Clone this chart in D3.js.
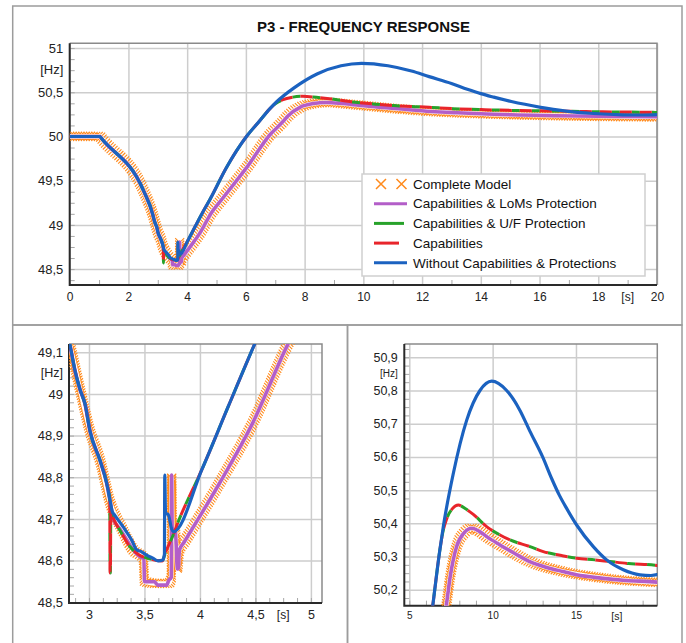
<!DOCTYPE html>
<html>
<head>
<meta charset="utf-8">
<script src="https://cdn.jsdelivr.net/npm/d3@7"></script>
<style>
  body { margin: 0; background: #fff; }
</style>
</head>
<body>
<svg id="chart" width="686" height="643"></svg>
<script>
// ---- data: [time (s), frequency (Hz)] ----
const completeModel = [
  [0, 50.0], [1.03, 50.0], [1.08, 49.979], [2.51, 49.39], [2.83, 49.116], [2.92, 49.01], [3.01, 48.91],
  [3.10, 48.84], [3.19, 48.74], [3.30, 48.675], [3.40, 48.625], [3.49, 48.606], [3.50, 48.55],
  [3.60, 48.545], [3.72, 48.545], [3.742, 48.56], [3.745, 48.80], [3.752, 48.68], [3.78, 48.665],
  [3.797, 48.58], [3.815, 48.625], [3.86, 48.645], [4.175, 48.785], [4.475, 48.93], [4.79, 49.118],
  [5.23, 49.31], [6.03, 49.65], [6.82, 50.02], [7.24, 50.16], [7.44, 50.235], [7.84, 50.33],
  [8.3, 50.372], [8.74, 50.385], [9.2, 50.376], [9.64, 50.36], [10.44, 50.335], [12.3, 50.283],
  [14.2, 50.255], [16.5, 50.236], [18, 50.228], [20, 50.222]
];

const lomsProtection = [
  [0, 50.0], [1.03, 50.0], [1.08, 49.979], [2.51, 49.39], [2.83, 49.116], [2.874, 49.056], [2.92, 49.01],
  [2.964, 48.976], [3.01, 48.91], [3.10, 48.84], [3.16, 48.785], [3.19, 48.742], [3.22, 48.70],
  [3.28, 48.675], [3.34, 48.65], [3.40, 48.625], [3.475, 48.607], [3.495, 48.605], [3.50, 48.549],
  [3.59, 48.549], [3.62, 48.541], [3.70, 48.541], [3.72, 48.553], [3.742, 48.56], [3.745, 48.805],
  [3.75, 48.68], [3.78, 48.665], [3.797, 48.58], [3.805, 48.58], [3.815, 48.625], [3.86, 48.645],
  [4.175, 48.785], [4.475, 48.93], [4.79, 49.118], [5.23, 49.31], [6.03, 49.65], [6.82, 50.02],
  [7.24, 50.16], [7.44, 50.235], [7.84, 50.33], [8.3, 50.372], [8.74, 50.385], [9.2, 50.376],
  [9.64, 50.36], [10.44, 50.335], [11.3, 50.31], [12.3, 50.283], [13.2, 50.268], [14.2, 50.255],
  [15.03, 50.245], [16.5, 50.235], [18, 50.228], [19.86, 50.223], [20, 50.222]
];

const ufProtection = [
  [0, 50.0], [1.03, 50.0], [1.08, 49.979], [2.51, 49.39], [2.83, 49.116], [2.874, 49.056], [2.92, 49.01],
  [2.964, 48.976], [3.01, 48.91], [3.10, 48.84], [3.16, 48.785], [3.187, 48.745], [3.19, 48.57],
  [3.193, 48.57], [3.197, 48.718], [3.23, 48.695], [3.28, 48.672], [3.37, 48.633], [3.45, 48.614],
  [3.55, 48.604], [3.61, 48.600], [3.66, 48.599], [3.69, 48.62], [3.76, 48.662], [3.80, 48.69],
  [4.02, 48.82], [4.26, 48.973], [4.49, 49.118], [4.78, 49.29], [5.34, 49.65], [6.02, 50.0],
  [6.44, 50.165], [6.82, 50.315], [7.0, 50.37], [7.24, 50.413], [7.6, 50.445], [7.94, 50.455],
  [8.4, 50.443], [8.84, 50.427], [9.64, 50.39], [10.44, 50.365], [11.04, 50.35], [12.24, 50.33],
  [13.04, 50.315], [14.14, 50.303], [15.04, 50.295], [16.14, 50.29], [17.04, 50.285],
  [18.15, 50.279], [19.86, 50.273], [20, 50.272]
];

const capabilities = [
  [0, 50.0], [1.03, 50.0], [1.08, 49.979], [2.51, 49.39], [2.83, 49.116], [2.874, 49.056], [2.92, 49.01],
  [2.964, 48.976], [3.01, 48.91], [3.10, 48.84], [3.16, 48.785], [3.187, 48.745], [3.19, 48.57],
  [3.193, 48.57], [3.197, 48.718], [3.23, 48.695], [3.28, 48.672], [3.37, 48.633], [3.45, 48.614],
  [3.55, 48.604], [3.61, 48.600], [3.66, 48.599], [3.69, 48.62], [3.76, 48.662], [3.80, 48.69],
  [4.02, 48.82], [4.26, 48.973], [4.49, 49.118], [4.78, 49.29], [5.34, 49.65], [6.02, 50.0],
  [6.44, 50.165], [6.82, 50.315], [7.0, 50.37], [7.24, 50.413], [7.6, 50.445], [7.94, 50.455],
  [8.4, 50.443], [8.84, 50.427], [9.64, 50.39], [10.44, 50.365], [11.04, 50.35], [12.24, 50.33],
  [13.04, 50.315], [14.14, 50.303], [15.04, 50.295], [16.14, 50.29], [17.04, 50.285],
  [18.15, 50.279], [19.86, 50.273], [20, 50.272]
];

const withoutCapabilities = [
  [0, 50.0], [1.03, 50.0], [1.08, 49.979], [2.51, 49.39], [2.83, 49.116], [2.874, 49.056], [2.92, 49.01],
  [2.964, 48.976], [3.01, 48.91], [3.10, 48.84], [3.16, 48.785], [3.19, 48.745], [3.21, 48.718],
  [3.235, 48.708], [3.31, 48.68], [3.385, 48.649], [3.43, 48.626], [3.475, 48.621], [3.52, 48.613],
  [3.58, 48.605], [3.624, 48.599], [3.664, 48.601], [3.68, 48.615], [3.683, 48.805], [3.69, 48.713],
  [3.713, 48.711], [3.745, 48.676], [3.76, 48.669], [4.02, 48.82], [4.26, 48.973], [4.49, 49.118],
  [4.78, 49.29], [5.34, 49.65], [6.02, 50.0], [6.44, 50.165], [6.82, 50.315], [7.04, 50.39],
  [7.64, 50.55], [8.44, 50.71], [9.24, 50.80], [9.94, 50.828], [10.84, 50.80], [11.64, 50.74],
  [12.24, 50.677], [13.0, 50.60], [13.54, 50.535], [14.0, 50.485], [14.44, 50.445], [15.04, 50.395],
  [16.04, 50.33], [16.84, 50.29], [17.84, 50.26], [18.84, 50.245], [19.5, 50.243], [20, 50.247]
];

const seriesNames = [
  "Complete Model",
  "Capabilities & LoMs Protection",
  "Capabilities & U/F Protection",
  "Capabilities",
  "Without Capabilities & Protections"
];

// tick values of the three panels
const topXTicks = [0, 2, 4, 6, 8, 10, 12, 14, 16, 18, 20];
const topYTicks = [48.5, 49, 49.5, 50, 50.5, 51];
const leftXTicks = [3, 3.5, 4, 4.5, 5];
const leftYTicks = [48.5, 48.6, 48.7, 48.8, 48.9, 49, 49.1];
const rightXTicks = [5, 10, 15];
const rightYTicks = [50.2, 50.3, 50.4, 50.5, 50.6, 50.7, 50.8, 50.9];

// ---- styles ----
const FONT = '"Liberation Sans", Arial, Helvetica, sans-serif';
const colors = ["#ff8a1c", "#b35ec8", "#27a22a", "#e8252b", "#1b62c0"];
const fmt = d => String(d).replace(".", ",");

const svg = d3.select("#chart");
svg.append("rect").attr("width", 686).attr("height", 643).attr("fill", "#fff");

// outer frames of the three panels
[[12.7, 6, 682, 325], [12.7, 325, 347.5, 660], [347.5, 325, 682, 660]].forEach(b => {
  svg.append("rect")
    .attr("x", b[0]).attr("y", b[1])
    .attr("width", b[2] - b[0]).attr("height", b[3] - b[1])
    .attr("fill", "none").attr("stroke", "#9c9c9c").attr("stroke-width", 1.5);
});

svg.append("text")
  .attr("x", 363.5).attr("y", 31.5)
  .attr("text-anchor", "middle")
  .style("font-family", FONT).style("font-size", "15px").style("font-weight", "bold")
  .attr("fill", "#111")
  .text("P3 - FREQUENCY RESPONSE");

const panels = [
  { x0: 69.7, x1: 657, y0: 43.3, y1: 285, tDom: [0, 20], fDom: [48.32, 51.054],
    xTicks: topXTicks, yTicks: topYTicks,
    xMinor: d3.range(1, 20, 2), yMinor: d3.range(48.375, 51.05, 0.125),
    sAt: 19, hzAt: 50.75, xFont: 12, yFont: 13, sFont: 12, hzFont: 13, xPad: 7.2, yPad: 6.4 },
  { x0: 69, x1: 322, y0: 344, y1: 603, tDom: [2.82, 5.1], fDom: [48.498, 49.12],
    xTicks: leftXTicks, yTicks: leftYTicks,
    xMinor: d3.range(2.875, 5.1, 0.125), yMinor: d3.range(48.52, 49.12, 0.02),
    sAt: 4.75, hzAt: 49.05, xFont: 12.5, yFont: 13, sFont: 12, hzFont: 12.5, xPad: 7, yPad: 6 },
  { x0: 404.3, x1: 657.3, y0: 344, y1: 605.7, tDom: [4.7, 19.88], fDom: [50.152, 50.94],
    xTicks: rightXTicks, yTicks: rightYTicks,
    xMinor: d3.range(5, 19.9, 1), yMinor: d3.range(50.175, 50.94, 0.025),
    sAt: 17.45, hzAt: 50.85, xFont: 10, yFont: 12.5, sFont: 10.5, hzFont: 10, xPad: 6.5, yPad: 6.5 }
];

panels.forEach((p, i) => {
  const x = d3.scaleLinear().domain(p.tDom).range([p.x0, p.x1]);
  const y = d3.scaleLinear().domain(p.fDom).range([p.y1, p.y0]);
  const w = p.x1 - p.x0, h = p.y1 - p.y0;

  svg.append("clipPath").attr("id", "clip" + i)
    .append("rect").attr("x", p.x0).attr("y", p.y0).attr("width", w).attr("height", h);

  // grid + labels
  const gx = svg.append("g")
    .attr("transform", `translate(0,${p.y1})`)
    .call(d3.axisBottom(x).tickValues(p.xTicks).tickFormat(fmt).tickSize(-h).tickPadding(p.xPad))
    .attr("font-family", FONT).attr("font-size", p.xFont);
  gx.select(".domain").remove();
  gx.selectAll("line").attr("stroke", "#cdcdcd").attr("stroke-width", 1.5);
  gx.selectAll("text").attr("fill", "#222");

  const gy = svg.append("g")
    .attr("transform", `translate(${p.x0},0)`)
    .call(d3.axisLeft(y).tickValues(p.yTicks).tickFormat(fmt).tickSize(-w).tickPadding(p.yPad))
    .attr("font-family", FONT).attr("font-size", p.yFont);
  gy.select(".domain").remove();
  gy.selectAll("line").attr("stroke", "#cdcdcd").attr("stroke-width", 1.5);
  gy.selectAll("text").attr("fill", "#222");

  // minor ticks (inside the plot)
  const mx = svg.append("g").attr("transform", `translate(0,${p.y1})`)
    .call(d3.axisBottom(x).tickValues(p.xMinor).tickFormat("").tickSize(-5));
  mx.select(".domain").remove();
  mx.selectAll("line").attr("stroke", "#a8a8a8");
  const my = svg.append("g").attr("transform", `translate(${p.x0},0)`)
    .call(d3.axisLeft(y).tickValues(p.yMinor).tickFormat("").tickSize(-5));
  my.select(".domain").remove();
  my.selectAll("line").attr("stroke", "#a8a8a8");

  // frame
  svg.append("path")
    .attr("d", `M${p.x0},${p.y0}H${p.x1}V${p.y1}`)
    .attr("fill", "none").attr("stroke", "#8a8a8a").attr("stroke-width", 1.5);
  svg.append("path")
    .attr("d", `M${p.x0},${p.y0}V${p.y1}H${p.x1}`)
    .attr("fill", "none").attr("stroke", "#2a2a2a").attr("stroke-width", 2);

  // unit labels
  svg.append("text")
    .attr("x", x(p.sAt)).attr("y", p.y1 + p.xPad).attr("dy", "0.71em")
    .attr("text-anchor", "middle")
    .style("font-family", FONT).style("font-size", p.sFont + "px").attr("fill", "#222")
    .text("[s]");
  svg.append("text")
    .attr("x", p.x0 - p.yPad).attr("y", y(p.hzAt)).attr("dy", "0.32em")
    .attr("text-anchor", "end")
    .style("font-family", FONT).style("font-size", p.hzFont + "px").attr("fill", "#222")
    .text("[Hz]");

  // series
  const line = d3.line()
    .x(d => x(d[0])).y(d => y(d[1]))
    .curve(d3.curveMonotoneX);
  const g = svg.append("g").attr("clip-path", `url(#clip${i})`);

  // complete model: dense orange crosses along the curve, white core
  const guide = g.append("path").datum(completeModel)
    .attr("d", line).attr("fill", "none").attr("stroke", "none");
  const node = guide.node();
  const len = node.getTotalLength();
  const marks = d3.range(0, len, 2.6).map(l => node.getPointAtLength(l));
  g.append("path")
    .attr("d", marks.map(m => `M${m.x - 4.5},${m.y - 4.5}l9,9m0,-9l-9,9`).join(""))
    .attr("fill", "none").attr("stroke", colors[0]).attr("stroke-width", 1.1);
  g.append("path").datum(completeModel)
    .attr("d", line).attr("fill", "none")
    .attr("stroke", "#fff").attr("stroke-width", 4.5).attr("stroke-linejoin", "round");

  const styled = [
    { data: lomsProtection, color: colors[1], width: 3.6, dash: null },
    { data: ufProtection, color: colors[2], width: 3, dash: "0,12,8,0" },
    { data: capabilities, color: colors[3], width: 3, dash: "12,8" },
    { data: withoutCapabilities, color: colors[4], width: 3.2, dash: null }
  ];
  styled.forEach(s => {
    g.append("path").datum(s.data)
      .attr("d", line).attr("fill", "none")
      .attr("stroke", s.color).attr("stroke-width", s.width)
      .attr("stroke-linejoin", "round")
      .attr("stroke-dasharray", s.dash);
  });
});

// ---- legend (top panel) ----
const legend = svg.append("g");
legend.append("rect")
  .attr("x", 362).attr("y", 174).attr("width", 283).attr("height", 102)
  .attr("fill", "#fff").attr("stroke", "#cfcfcf").attr("stroke-width", 1.5);

const legendLen = [0, 33, 30, 25, 33];
seriesNames.forEach((name, i) => {
  const ly = 184 + i * 19.7;
  if (i === 0) {
    [381, 401.5].forEach(cx => {
      legend.append("path")
        .attr("d", `M${cx - 5},${ly - 5}L${cx + 5},${ly + 5}M${cx - 5},${ly + 5}L${cx + 5},${ly - 5}`)
        .attr("stroke", colors[0]).attr("stroke-width", 1.5).attr("fill", "none");
    });
  } else {
    legend.append("line")
      .attr("x1", 374).attr("x2", 374 + legendLen[i])
      .attr("y1", ly).attr("y2", ly)
      .attr("stroke", colors[i]).attr("stroke-width", 3);
  }
  legend.append("text")
    .attr("x", 413).attr("y", ly).attr("dy", "0.35em")
    .style("font-family", FONT).style("font-size", "13.5px").attr("fill", "#111")
    .text(name);
});
</script>
</body>
</html>
